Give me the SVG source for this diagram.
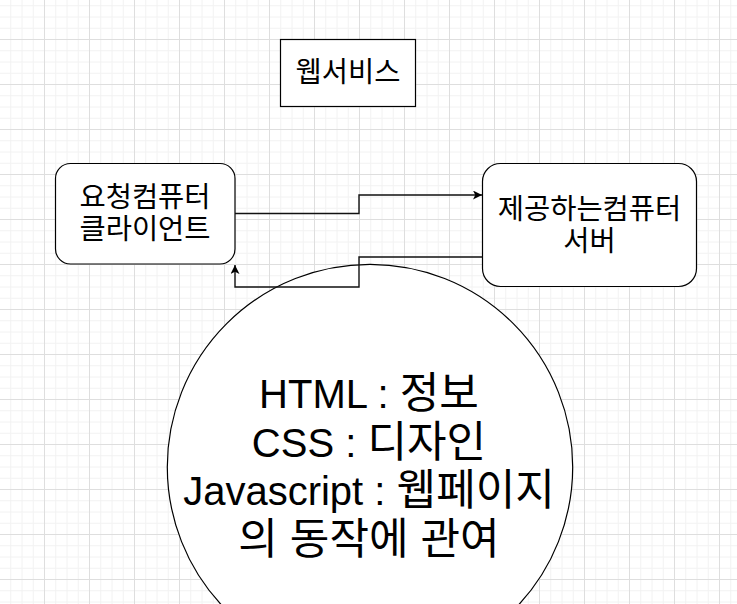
<svg xmlns="http://www.w3.org/2000/svg" width="737" height="604" viewBox="0 0 737 604">
<defs>
<pattern id="grid" patternUnits="userSpaceOnUse" x="44" y="39" width="45" height="45">
<path d="M11.75 0V45M23 0V45M34.25 0V45M0 11.75H45M0 23H45M0 34.25H45" stroke="#f2f2f2" stroke-width="1" fill="none"/>
<path d="M0.5 0V45M0 0.5H45" stroke="#dedede" stroke-width="1" fill="none"/>
</pattern>
<marker id="arr" viewBox="0 0 10 10" refX="10" refY="5" markerWidth="9" markerHeight="9" markerUnits="userSpaceOnUse" orient="auto">
<path d="M0 0L10 5L0 10L2.5 5Z" fill="#000"/>
</marker>
</defs>
<style>
.box{fill:#fff;stroke:#000;stroke-width:1.2}
.t{font-family:"Liberation Sans","Noto Sans CJK KR",sans-serif;fill:#000;text-anchor:middle}
.s{font-size:28.5px}
.b{font-size:40px}
.k{font-size:43px}
.c{fill:none;stroke:#111;stroke-width:1.4}
</style>
<rect width="737" height="604" fill="#fff"/>
<rect width="737" height="604" fill="url(#grid)"/>
<g id="title">
<rect class="box" x="280.5" y="39.5" width="135" height="67"/>
<text class="t s" x="348" y="82">웹서비스</text>
</g>
<g id="client">
<rect class="box" x="55.5" y="163.5" width="179.5" height="100.5" rx="15" ry="15"/>
<text class="t s" x="145" y="207">요청컴퓨터</text>
<text class="t s" x="145" y="239">클라이언트</text>
</g>
<g id="server">
<rect class="box" x="482.5" y="163.5" width="214" height="123" rx="18" ry="18"/>
<text class="t s" x="589.5" y="219">제공하는컴퓨터</text>
<text class="t s" x="589.5" y="251">서버</text>
</g>
<g id="web-tech">
<circle class="box" cx="370" cy="467" r="202.7"/>
<text class="t b" x="369" y="408">HTML : <tspan class="k">정보</tspan></text>
<text class="t b" x="369" y="456.5">CSS : <tspan class="k">디자인</tspan></text>
<text class="t b" x="369" y="505">Javascript : <tspan class="k">웹페이지</tspan></text>
<text class="t k" x="369" y="554">의 동작에 관여</text>
</g>
<g id="connectors">
<path class="c" d="M235 213.5H359V195H482" marker-end="url(#arr)"/>
<path class="c" d="M482.5 257H359V287H235V265" marker-end="url(#arr)"/>
</g>
</svg>
